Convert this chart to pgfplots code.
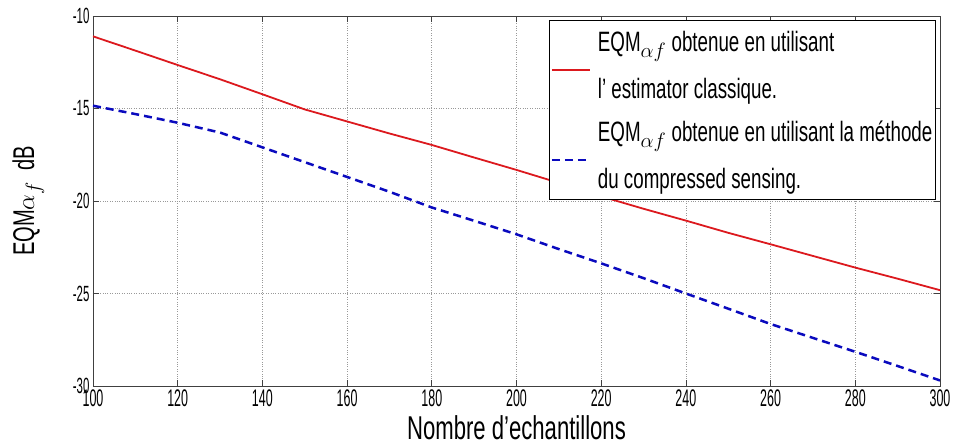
\documentclass[border=0pt]{standalone}
\usepackage{pgfplots}
\pgfplotsset{compat=1.18}
\usepackage{fontspec}
\setmainfont{Liberation Sans}[FakeStretch=0.67]
\newfontfamily\tickfont{Liberation Sans}[FakeStretch=0.52]
\definecolor{mred}{RGB}{220,25,30}
\definecolor{mblue}{RGB}{10,10,190}
\begin{document}
\begin{tikzpicture}
\useasboundingbox (-93pt,-59pt) rectangle (864pt,386pt);
\begin{axis}[
  at={(0pt,0pt)}, anchor=south west,
  scale only axis, width=847pt, height=370pt,
  xmin=100, xmax=300, ymin=-30, ymax=-10,
  xtick={100,120,...,300}, ytick={-30,-25,...,-10},
  grid=major,
  major grid style={dotted, gray!80, line width=0.7pt},
  axis line style={black!75, line width=0.8pt},
  tick style={black!75, line width=0.8pt},
  tick align=inside, major tick length=6pt,
  /pgf/number format/assume math mode=true,
  xticklabel style={font=\tickfont\fontsize{24}{24}\selectfont, yshift=0pt},
  yticklabel style={font=\tickfont\fontsize{22}{22}\selectfont},
  xlabel={Nombre d'echantillons},
  xlabel style={font=\fontsize{33}{33}\selectfont, yshift=-2pt},
  ylabel={EQM$\alpha_f$ \ dB},
  ylabel style={font=\fontsize{30}{30}\selectfont, yshift=22pt},
  legend style={at={(0.995,0.989)}, anchor=north east, draw=black, line width=0.8pt,
    font=\fontsize{28}{30}\selectfont, inner sep=1pt, row sep=3pt,
    nodes={text height=28pt, text depth=55pt, inner sep=2pt}},
  legend cell align=left,
]
\addplot[mred, line width=1.8pt,
  legend image code/.code={\draw[mred, line width=1.8pt] (0pt,-5pt) -- (38pt,-5pt); \path[draw=none] (0pt,8pt) -- (44pt,8pt);}] coordinates {
(100,-11.1) (110,-11.87) (120,-12.65) (130,-13.42) (140,-14.23) (150,-15.05)
(160,-15.7) (170,-16.35) (180,-16.97) (190,-17.65) (200,-18.32) (210,-19.02)
(220,-19.75) (230,-20.42) (240,-21.06) (250,-21.72) (260,-22.34) (270,-22.97)
(280,-23.6) (290,-24.2) (300,-24.82)};
\addlegendentry{\begin{tabular}[t]{@{}l@{}}EQM$_{\alpha f}$ obtenue en utilisant\\[17pt] l' estimator classique.\end{tabular}}
\addplot[mblue, line width=2.5pt, dash pattern=on 8pt off 5pt,
  legend image code/.code={\draw[mblue, line width=2.5pt, dash pattern=on 8pt off 5pt] (0pt,-5pt) -- (36pt,-5pt); \path[draw=none] (0pt,8pt) -- (44pt,8pt);}] coordinates {
(100,-14.85) (110,-15.3) (120,-15.77) (130,-16.3) (140,-17.1) (150,-17.9)
(160,-18.7) (170,-19.5) (180,-20.35) (190,-21.07) (200,-21.8) (210,-22.6)
(220,-23.37) (230,-24.17) (240,-25.0) (250,-25.82) (260,-26.65) (270,-27.4)
(280,-28.15) (290,-28.92) (300,-29.7)};
\addlegendentry{\begin{tabular}[t]{@{}l@{}}EQM$_{\alpha f}$ obtenue en utilisant la méthode\\[17pt] du compressed sensing.\end{tabular}}
\end{axis}
\end{tikzpicture}
\end{document}
